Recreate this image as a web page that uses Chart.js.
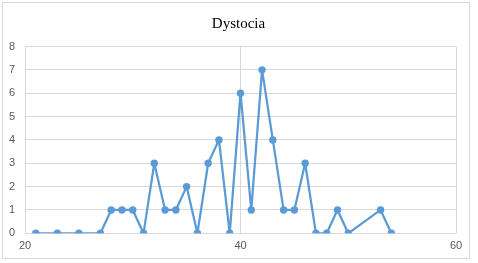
<!DOCTYPE html>
<html>
<head>
<meta charset="utf-8">
<script src="https://cdn.jsdelivr.net/npm/chart.js@4"></script>
<style>
  html, body { margin: 0; padding: 0; background: #fff; }
  #wrap { position: relative; width: 478px; height: 263px; }
  #frame { position: absolute; left: 2px; top: 2px; width: 468px; height: 257px; border: 1px solid #d9d9d9; box-sizing: border-box; }
  canvas { position: absolute; left: 0; top: 0; }
</style>
</head>
<body>
<div id="wrap">
  <div id="frame"></div>
  <canvas id="chart" width="478" height="263"></canvas>
</div>
<script>
// Chart data
const chartTitle = 'Dystocia';
const xValues = [21, 23, 25, 27, 28, 29, 30, 31, 32, 33, 34, 35, 36, 37, 38, 39, 40, 41, 42, 43, 44, 45, 46, 47, 48, 49, 50, 53, 54];
const yValues = [0, 0, 0, 0, 1, 1, 1, 0, 3, 1, 1, 2, 0, 3, 4, 0, 6, 1, 7, 4, 1, 1, 3, 0, 0, 1, 0, 1, 0];
const xTicks = [20, 40, 60];
const yTicks = [0, 1, 2, 3, 4, 5, 6, 7, 8];

const lineColor = '#5b9bd5';
const gridColor = '#d9d9d9';
const labelColor = '#595959';

const points = xValues.map((x, i) => ({ x: x, y: yValues[i] }));

new Chart(document.getElementById('chart').getContext('2d'), {
    type: 'scatter',
    data: {
        datasets: [{
            label: chartTitle,
            data: points,
            showLine: true,
            borderColor: lineColor,
            backgroundColor: lineColor,
            borderWidth: 2.25,
            borderJoinStyle: 'round',
            pointRadius: 3.7,
            pointBorderWidth: 0,
            tension: 0
        }]
    },
    options: {
        responsive: false,
        animation: false,
        layout: { padding: { left: 0, right: 1, top: 0, bottom: 4.5 } },
        plugins: {
            legend: { display: false },
            tooltip: { enabled: false },
            title: {
                display: true,
                text: chartTitle,
                color: '#000',
                font: { family: 'Liberation Serif', size: 15, weight: 'normal' },
                padding: { top: 15, bottom: 13.5 }
            }
        },
        scales: {
            x: {
                type: 'linear',
                min: 20,
                max: 60,
                afterBuildTicks: function(scale) {
                    scale.ticks = xTicks.map(v => ({ value: v }));
                },
                grid: { color: gridColor, lineWidth: 1, drawTicks: false },
                border: { display: false },
                ticks: {
                    color: labelColor,
                    padding: 6,
                    maxRotation: 0,
                    font: { family: 'Liberation Sans', size: 11 }
                }
            },
            y: {
                min: 0,
                max: 8,
                afterBuildTicks: function(scale) {
                    scale.ticks = yTicks.map(v => ({ value: v }));
                },
                afterFit: function(scale) {
                    scale.width = 25;
                },
                grid: { color: gridColor, lineWidth: 1, drawTicks: false },
                border: { display: false },
                ticks: {
                    color: labelColor,
                    padding: 10,
                    font: { family: 'Liberation Sans', size: 11 }
                }
            },
            // empty right-hand axis, only reserves the margin so the title sits over the plot
            yRight: {
                position: 'right',
                min: 0,
                max: 8,
                afterFit: function(scale) {
                    scale.width = 21;
                },
                grid: { display: false },
                border: { display: false },
                ticks: { display: false }
            }
        }
    }
});
</script>
</body>
</html>
